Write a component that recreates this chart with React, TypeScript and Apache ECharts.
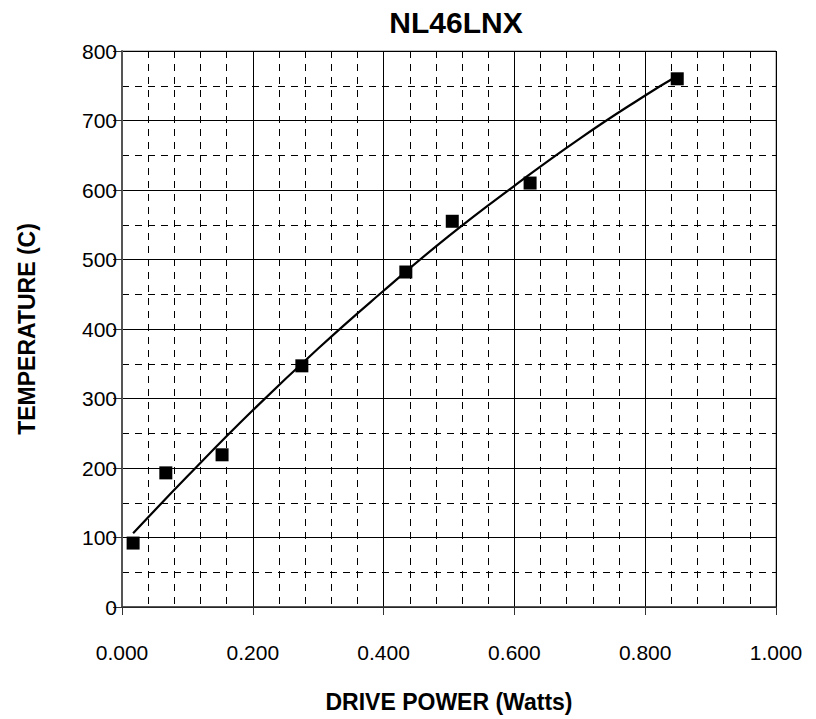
import React, { useEffect, useRef } from "react";
import * as echarts from "echarts";

const titleText = "NL46LNX";
const xAxisTitle = "DRIVE POWER (Watts)";
const yAxisTitle = "TEMPERATURE (C)";

// measured points
const powerWatts = [0.017, 0.067, 0.153, 0.275, 0.434, 0.505, 0.624, 0.849];
const temperatureC = [92, 193, 219, 347, 482, 555, 610, 760];

// trendline
const trendPower = [0.017, 0.1, 0.2, 0.3, 0.4, 0.5, 0.6, 0.7, 0.8, 0.849];
const trendTemp = [106, 188, 283, 372, 455, 534, 606, 674, 736, 764];

const FONT = "'Liberation Sans', Arial, Helvetica, sans-serif";

export default function App() {
  const ref = useRef<HTMLDivElement>(null);
  useEffect(() => {
    if (!ref.current) return;
    const chart = echarts.init(ref.current, null, { renderer: "svg" });
    const scatterData = powerWatts.map((x, i) => [x, temperatureC[i]]);
    const trendData = trendPower.map((x, i) => [x, trendTemp[i]]);
    chart.setOption({
      animation: false,
      backgroundColor: "#ffffff",
      textStyle: { fontFamily: FONT },
      title: {
        text: titleText,
        left: 451,
        top: 2,
        textAlign: "center",
        textStyle: { fontFamily: FONT, fontSize: 30, fontWeight: "bold", color: "#000" },
      },
      grid: { left: 122, top: 51, right: 40, bottom: 112, show: true, borderColor: "#808080", borderWidth: 1, backgroundColor: "transparent" },
      xAxis: {
        type: "value",
        min: 0,
        max: 1,
        interval: 0.2,
        name: xAxisTitle,
        nameLocation: "middle",
        nameGap: 83,
        nameTextStyle: { fontFamily: FONT, fontSize: 23, fontWeight: "bold", color: "#000" },
        axisLine: { show: true, onZero: false, lineStyle: { color: "#333", width: 1.5 } },
        axisTick: { show: true, length: 8, lineStyle: { color: "#333" } },
        minorTick: { show: false, splitNumber: 5 },
        axisLabel: { fontFamily: FONT, fontSize: 21, color: "#000", margin: 35, formatter: (v: number) => v.toFixed(3) },
        splitLine: { show: true, lineStyle: { color: "#000", width: 1 } },
        minorSplitLine: { show: true, lineStyle: { color: "#000", width: 1, type: [7, 6] } },
      },
      yAxis: {
        type: "value",
        min: 0,
        max: 800,
        interval: 100,
        name: yAxisTitle,
        nameLocation: "middle",
        nameGap: 84,
        nameRotate: 90,
        nameTextStyle: { fontFamily: FONT, fontSize: 23, fontWeight: "bold", color: "#000" },
        axisLine: { show: true, lineStyle: { color: "#555", width: 2 } },
        axisTick: { show: true, length: 9, lineStyle: { color: "#333" } },
        minorTick: { show: false, splitNumber: 2 },
        axisLabel: { fontFamily: FONT, fontSize: 21, color: "#000", margin: 5 },
        splitLine: { show: true, lineStyle: { color: "#000", width: 1 } },
        minorSplitLine: { show: true, lineStyle: { color: "#000", width: 1, type: [7, 6] } },
      },
      series: [
        {
          type: "line",
          data: trendData,
          smooth: true,
          showSymbol: false,
          lineStyle: { color: "#000", width: 2.2 },
          z: 3,
        },
        {
          type: "scatter",
          data: scatterData,
          symbol: "rect",
          symbolSize: 13,
          itemStyle: { color: "#000", opacity: 1 },
          z: 4,
        },
      ],
    });
    return () => chart.dispose();
  }, []);
  return <div ref={ref} style={{ width: 816, height: 719, position: "absolute", left: 0, top: 0 }} />;
}
